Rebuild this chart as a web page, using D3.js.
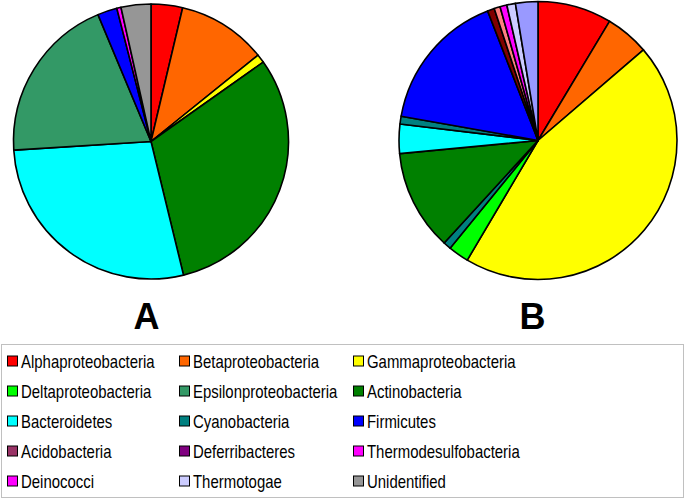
<!DOCTYPE html>
<html><head><meta charset="utf-8">
<script src="https://cdn.jsdelivr.net/npm/d3@7"></script>
<style>body{margin:0;background:#fff}svg{display:block}</style>
</head><body>
<svg id="chart" width="685" height="500"></svg>
<script>
// Legend categories and colours
const legendLabels = ["Alphaproteobacteria","Betaproteobacteria","Gammaproteobacteria",
  "Deltaproteobacteria","Epsilonproteobacteria","Actinobacteria",
  "Bacteroidetes","Cyanobacteria","Firmicutes",
  "Acidobacteria","Deferribacteres","Thermodesulfobacteria",
  "Deinococci","Thermotogae","Unidentified"];
const legendColors = ["#FF0000","#FF6600","#FFFF00",
  "#00FF00","#339966","#008000",
  "#00FFFF","#008080","#0000FF",
  "#993366","#800080","#FF00FF",
  "#FF00FF","#CCCCFF","#969696"];

// Pie A (percent, clockwise from top)
const pieALabels = ["Alphaproteobacteria","Betaproteobacteria","Gammaproteobacteria","Actinobacteria","Bacteroidetes","Epsilonproteobacteria","Firmicutes","Thermodesulfobacteria","Unidentified"];
const pieAValues = [3.7, 10.5, 1.0, 31.0, 27.8, 19.7, 2.3, 0.5, 3.5];
const pieAColors = ["#FF0000","#FF6600","#FFFF00","#008000","#00FFFF","#339966","#0000FF","#FF00FF","#969696"];

// Pie B
const pieBLabels = ["Alphaproteobacteria","Betaproteobacteria","Gammaproteobacteria","Deltaproteobacteria","Epsilonproteobacteria","Actinobacteria","Bacteroidetes","Cyanobacteria","Firmicutes","Acidobacteria","Deferribacteres","Thermodesulfobacteria","Thermotogae","Unidentified"];
const pieBValues = [8.6, 5.1, 44.8, 2.4, 0.9, 11.7, 3.4, 0.9, 16.3, 0.8, 0.7, 0.8, 1.0, 2.6];
const pieBColors = ["#FF0000","#FF6600","#FFFF00","#00FF00","#008080","#008000","#00FFFF","#008080","#0000FF","#800000","#FF8080","#FF00FF","#CCCCFF","#9999FF"];

const pieTitles = ["A","B"];

const svg = d3.select("#chart");
const pies = [
  {cx:151, cy:141.5, r:137.5, labels:pieALabels, values:pieAValues, colors:pieAColors, title:pieTitles[0], tx:146.5},
  {cx:538, cy:140.5, r:139, labels:pieBLabels, values:pieBValues, colors:pieBColors, title:pieTitles[1], tx:532.5}
];

const pieGen = d3.pie().sort(null).value(d => d.v);
pies.forEach(p => {
  const data = p.values.map((v,i) => ({v, label:p.labels[i], color:p.colors[i]}));
  const arc = d3.arc().innerRadius(0).outerRadius(p.r);
  const g = svg.append("g").attr("transform", `translate(${p.cx},${p.cy})`);
  g.selectAll("path").data(pieGen(data)).join("path")
    .attr("d", arc)
    .attr("fill", d => d.data.color)
    .attr("stroke", "#000")
    .attr("stroke-width", 1.6)
    .attr("stroke-linejoin", "round");
  svg.append("text").attr("x", p.tx).attr("y", 329)
    .attr("text-anchor","middle")
    .attr("font-family","Liberation Sans, Arial, sans-serif")
    .attr("font-weight","bold").attr("font-size", 36)
    .text(p.title);
});

// Legend
const lg = svg.append("g");
lg.append("rect").attr("x",1.5).attr("y",344.5).attr("width",682).attr("height",153)
  .attr("fill","#fff").attr("stroke","#c0c0c0").attr("stroke-width",1);
const colX = [7, 179, 353];
legendLabels.forEach((lab,i) => {
  const col = i % 3, row = Math.floor(i/3);
  const x = colX[col], y = 361.5 + row*30;
  lg.append("rect").attr("x", x+0.5).attr("y", y-5.5).attr("width",10).attr("height",10)
    .attr("fill", legendColors[i]).attr("stroke","#000").attr("stroke-width",1);
  lg.append("text").attr("transform", `translate(${x+14},${y+6.8}) scale(0.83,1)`)
    .attr("font-family","Liberation Sans, Arial, sans-serif")
    .attr("font-size", 18).attr("fill","#000")
    .text(lab);
});
</script>
</body></html>
